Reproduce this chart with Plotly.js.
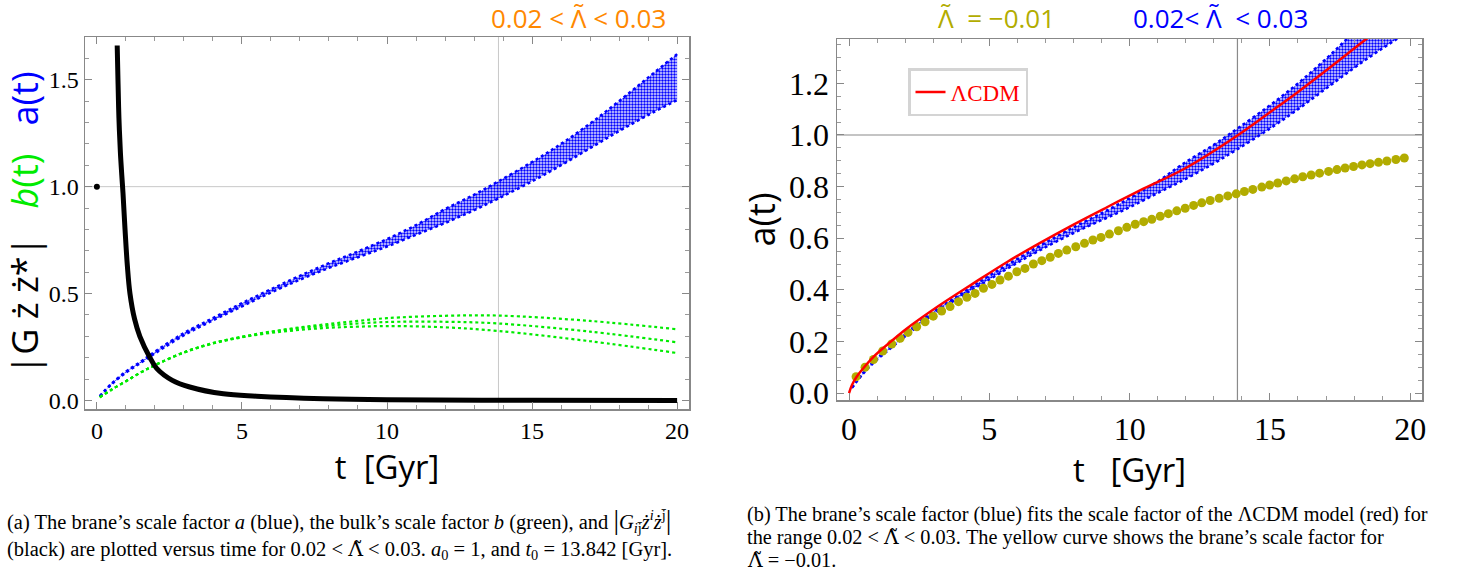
<!DOCTYPE html>
<html>
<head>
<meta charset="utf-8">
<script src="https://cdn.plot.ly/plotly-3.0.1.min.js"></script>
<style>body{margin:0;padding:0;background:#fff;}#chart{width:1461px;height:577px;}</style>
</head>
<body>
<div id="chart"></div>
<script>
// ---------- data ----------
// brane scale factor a(t): band for 0.02 < Λ̃ < 0.03 (lower / upper edges)
const bandT     = [0.1, 0.5, 1, 1.5, 2, 3, 4, 5, 6, 7, 8, 9, 10, 11, 12, 13, 13.842, 15, 16, 17, 18, 19, 20];
const aLower    = [0.02,0.075,0.13,0.175,0.22,0.305,0.375,0.44,0.505,0.565,0.62,0.67,0.72,0.775,0.83,0.89,0.945,1.025,1.10,1.18,1.26,1.335,1.405];
const aUpper    = [0.02,0.078,0.135,0.18,0.228,0.315,0.385,0.455,0.52,0.583,0.642,0.697,0.755,0.82,0.895,0.962,1.025,1.115,1.20,1.295,1.40,1.51,1.62];

// bulk scale factor b(t): three curves
const bT        = [0.1, 0.5, 1, 1.5, 2, 3, 4, 5, 6, 7, 8, 9, 10, 12, 13.842, 17, 20];
const bTop      = [0.015,0.05,0.09,0.13,0.165,0.225,0.268,0.298,0.322,0.342,0.358,0.372,0.385,0.396,0.397,0.372,0.333];
const bMid      = [0.015,0.05,0.09,0.13,0.165,0.225,0.268,0.297,0.32,0.338,0.35,0.36,0.367,0.368,0.36,0.322,0.272];
const bLow      = [0.015,0.05,0.09,0.13,0.165,0.224,0.266,0.295,0.316,0.33,0.34,0.345,0.348,0.342,0.325,0.277,0.222];

// |G z' z'*| (black)
const gStartT   = [0];
const gStartY   = [1.0];
const gT        = [0.70, 0.73, 0.76, 0.81, 0.86, 0.90, 0.97, 1.05, 1.14, 1.3, 1.48, 1.83, 2.06, 2.6, 3.2, 4.36, 5.5, 7.8, 10, 15, 20];
const gY        = [1.66, 1.48, 1.32, 1.16, 1.05, 0.97, 0.80, 0.63, 0.50, 0.38, 0.30, 0.20, 0.15, 0.094, 0.063, 0.031, 0.02, 0.008, 0.003, 0.001, 0.0];

// ΛCDM scale factor (red)
const lcdmT     = [0, 0.1, 0.27, 0.5, 0.87, 1.5, 2.06, 3.24, 4.43, 5.62, 6.81, 8.0, 9.19, 10.37, 12, 13.842, 15, 16, 17, 18, 19];
const lcdmA     = [0, 0.03, 0.063, 0.095, 0.14, 0.2, 0.25, 0.341, 0.425, 0.507, 0.582, 0.653, 0.72, 0.785, 0.872, 0.998, 1.088, 1.167, 1.25, 1.335, 1.42];

// brane scale factor for Λ̃ = −0.01 (olive dots)
const negT = [0.25,0.57,0.87,1.2,1.52,1.82,2.1,2.41,2.71,3.0,3.3,3.6,3.9,4.2,4.49,4.79,5.09,5.38,5.68,5.98,6.27,6.57,6.87,7.17,7.46,7.76,8.08,8.39,8.69,8.98,9.28,9.6,9.9,10.2,10.5,10.79,11.09,11.38,11.68,11.98,12.28,12.57,12.87,13.19,13.5,13.8,14.09,14.39,14.71,14.99,15.28,15.58,15.88,16.17,16.47,16.77,17.09,17.39,17.68,17.98,18.28,18.57,18.87,19.17,19.49,19.79];
const negA = [0.063,0.1,0.13,0.163,0.19,0.212,0.235,0.257,0.276,0.298,0.318,0.335,0.354,0.371,0.386,0.406,0.421,0.438,0.453,0.47,0.483,0.5,0.513,0.526,0.541,0.554,0.567,0.58,0.593,0.603,0.616,0.629,0.642,0.654,0.664,0.673,0.685,0.695,0.706,0.716,0.727,0.737,0.746,0.755,0.764,0.772,0.781,0.789,0.798,0.806,0.814,0.822,0.83,0.838,0.845,0.852,0.859,0.866,0.872,0.878,0.884,0.889,0.894,0.899,0.905,0.911];

// reference values
const t0 = 13.842;
const a0 = 1;

const xTicks = [0, 5, 10, 15, 20];
const yTicksL = [0, 0.5, 1.0, 1.5];
const yTickTextL = ['0.0', '0.5', '1.0', '1.5'];
const yTicksR = [0, 0.2, 0.4, 0.6, 0.8, 1.0, 1.2];
const yTickTextR = ['0.0', '0.2', '0.4', '0.6', '0.8', '1.0', '1.2'];

// ---------- styling ----------
const BLUE = 'rgb(0,0,255)';
const GREEN = 'rgb(0,235,0)';
const OLIVE = 'rgb(178,172,0)';
const ORANGE = 'rgb(255,136,0)';
const RED = 'rgb(255,0,0)';
const SERIF = 'Liberation Serif, Times New Roman, serif';
const SANS = 'Open Sans';
const W = 1461, H = 577;
const LT = '<span style="font-family:DejaVu Serif">Λ̃</span>';

const bandPattern = {shape: '.', fgcolor: BLUE, bgcolor: 'rgba(0,0,255,0.12)', size: 3, solidity: 0.5};

function band(xa, ya) {
  return [
    {x: bandT, y: aLower, xaxis: xa, yaxis: ya, mode: 'lines', line: {color: BLUE, width: 2.5, dash: 'dot', shape: 'spline'}, showlegend: false, hoverinfo: 'skip'},
    {x: bandT, y: aUpper, xaxis: xa, yaxis: ya, mode: 'lines', line: {color: BLUE, width: 2.5, dash: 'dot', shape: 'spline'}, fill: 'tonexty', fillcolor: 'rgba(0,0,255,0.4)', fillpattern: bandPattern, showlegend: false, hoverinfo: 'skip'}
  ];
}

const traces = [
  ...band('x', 'y'),
  {x: bT, y: bTop, xaxis: 'x', yaxis: 'y', mode: 'lines', line: {color: GREEN, width: 2.2, dash: 'dot', shape: 'spline'}, showlegend: false},
  {x: bT, y: bMid, xaxis: 'x', yaxis: 'y', mode: 'lines', line: {color: GREEN, width: 2.2, dash: 'dot', shape: 'spline'}, showlegend: false},
  {x: bT, y: bLow, xaxis: 'x', yaxis: 'y', mode: 'lines', line: {color: GREEN, width: 2.2, dash: 'dot', shape: 'spline'}, showlegend: false},
  {x: gT, y: gY, xaxis: 'x', yaxis: 'y', mode: 'lines', line: {color: 'black', width: 5, shape: 'spline'}, showlegend: false},
  {x: gStartT, y: gStartY, xaxis: 'x', yaxis: 'y', mode: 'markers', marker: {color: 'black', size: 6}, showlegend: false},

  ...band('x2', 'y2'),
  {x: negT, y: negA, xaxis: 'x2', yaxis: 'y2', mode: 'markers', marker: {color: OLIVE, size: 9}, showlegend: false},
  {x: lcdmT, y: lcdmA, xaxis: 'x2', yaxis: 'y2', mode: 'lines', name: 'ΛCDM', line: {color: RED, width: 2.5, shape: 'spline'}, showlegend: true}
];

function axisBase() {
  return {
    showline: true, linecolor: '#888', linewidth: 1.5, mirror: 'ticks',
    ticks: 'inside', ticklen: 7, tickcolor: '#888', tickwidth: 1,
    showgrid: false, zeroline: false,
    tickfont: {family: SERIF, size: 24, color: 'black'}
  };
}

const layout = {
  width: W, height: H,
  margin: {l: 0, r: 0, t: 0, b: 0},
  paper_bgcolor: 'white', plot_bgcolor: 'white',
  font: {family: SERIF, color: 'black'},
  showlegend: true,
  legend: {x: 908 / W, y: 1 - 68 / H, xanchor: 'left', yanchor: 'top', bgcolor: 'white',
           bordercolor: '#d4d4d4', borderwidth: 2.5, itemwidth: 30,
           font: {family: SERIF, size: 23, color: RED}},
  xaxis: Object.assign(axisBase(), {
    domain: [85 / W, 689 / W], range: [-0.41, 20.41], anchor: 'y',
    tickvals: xTicks, minor: {dtick: 1, ticklen: 4, tickcolor: '#999', ticks: 'inside'},
    title: {text: 't  [Gyr]', font: {family: SANS, size: 33, color: 'black'}, standoff: 9}
  }),
  yaxis: Object.assign(axisBase(), {
    domain: [(H - 409) / H, (H - 37) / H], range: [-0.04, 1.70], anchor: 'x',
    tickvals: yTicksL, ticktext: yTickTextL, minor: {dtick: 0.1, ticklen: 4, tickcolor: '#999', ticks: 'inside'},
    title: {text: '<span style="color:black">|G ż ż*|</span>   <span style="color:' + GREEN + '"><i>b</i>(t)</span>   <span style="color:' + BLUE + '">a(t)</span>',
            font: {family: SANS, size: 36, color: 'black'}, standoff: 2}
  }),
  xaxis2: Object.assign(axisBase(), {
    domain: [837 / W, 1422 / W], range: [-0.43, 20.42], anchor: 'y2',
    tickvals: xTicks, minor: {dtick: 1, ticklen: 4, tickcolor: '#999', ticks: 'inside'},
    tickfont: {family: SERIF, size: 32, color: 'black'},
    title: {text: 't   [Gyr]', font: {family: SANS, size: 33, color: 'black'}, standoff: 4}
  }),
  yaxis2: Object.assign(axisBase(), {
    domain: [(H - 400) / H, (H - 39) / H], range: [-0.027, 1.372], anchor: 'x2',
    tickvals: yTicksR, ticktext: yTickTextR, minor: {dtick: 0.05, ticklen: 4, tickcolor: '#999', ticks: 'inside'},
    tickfont: {family: SERIF, size: 32, color: 'black'},
    title: {text: 'a(t)', font: {family: SANS, size: 36, color: 'black'}, standoff: 2}
  }),
  shapes: [
    {type: 'line', xref: 'x', yref: 'y domain', x0: t0, x1: t0, y0: 0, y1: 1, line: {color: '#c8c8c8', width: 1}, layer: 'below'},
    {type: 'line', xref: 'x domain', yref: 'y', x0: 0, x1: 1, y0: a0, y1: a0, line: {color: '#c8c8c8', width: 1}, layer: 'below'},
    {type: 'line', xref: 'x2', yref: 'y2 domain', x0: t0, x1: t0, y0: 0, y1: 1, line: {color: '#8a8a8a', width: 1.2}, layer: 'below'},
    {type: 'line', xref: 'x2 domain', yref: 'y2', x0: 0, x1: 1, y0: a0, y1: a0, line: {color: '#8a8a8a', width: 1.2}, layer: 'below'}
  ],
  annotations: [
    {xref: 'paper', yref: 'paper', x: 578 / W, y: 1 - 18 / H, xanchor: 'center', yanchor: 'middle', showarrow: false,
     text: '0.02 &lt; Λ̃ &lt; 0.03', font: {family: SANS, size: 26, color: ORANGE}},
    {xref: 'paper', yref: 'paper', x: 996 / W, y: 1 - 18 / H, xanchor: 'center', yanchor: 'middle', showarrow: false,
     text: 'Λ̃  = −0.01', font: {family: SANS, size: 26, color: OLIVE}},
    {xref: 'paper', yref: 'paper', x: 1220 / W, y: 1 - 18 / H, xanchor: 'center', yanchor: 'middle', showarrow: false,
     text: '0.02&lt; Λ̃  &lt; 0.03', font: {family: SANS, size: 26, color: BLUE}},
    {xref: 'paper', yref: 'paper', x: 5 / W, y: 1 - 520 / H, xanchor: 'left', yanchor: 'middle', showarrow: false, align: 'left',
     text: '(a) The brane’s scale factor <i>a</i> (blue), the bulk’s scale factor <i>b</i> (green), and <span style="font-size:28px">|</span><i>G</i><sub><i>i</i>j̄</sub><i>ż</i><sup><i>i</i></sup><i>ż</i><sup>j̄</sup><span style="font-size:28px">|</span>',
     font: {family: SERIF, size: 20.5, color: 'black'}},
    {xref: 'paper', yref: 'paper', x: 5 / W, y: 1 - 550 / H, xanchor: 'left', yanchor: 'middle', showarrow: false, align: 'left',
     text: '(black) are plotted versus time for 0.02 &lt; ' + LT + ' &lt; 0.03. <i>a</i><sub>0</sub> = 1, and <i>t</i><sub>0</sub> = 13.842 [Gyr].',
     font: {family: SERIF, size: 20.5, color: 'black'}},
    {xref: 'paper', yref: 'paper', x: 745 / W, y: 1 - 514 / H, xanchor: 'left', yanchor: 'middle', showarrow: false, align: 'left',
     text: '(b) The brane’s scale factor (blue) fits the scale factor of the ΛCDM model (red) for',
     font: {family: SERIF, size: 20.3, color: 'black'}},
    {xref: 'paper', yref: 'paper', x: 745 / W, y: 1 - 537 / H, xanchor: 'left', yanchor: 'middle', showarrow: false, align: 'left',
     text: 'the range 0.02 &lt; ' + LT + ' &lt; 0.03. The yellow curve shows the brane’s scale factor for',
     font: {family: SERIF, size: 20.3, color: 'black'}},
    {xref: 'paper', yref: 'paper', x: 745 / W, y: 1 - 560 / H, xanchor: 'left', yanchor: 'middle', showarrow: false, align: 'left',
     text: LT + ' = −0.01.',
     font: {family: SERIF, size: 20.3, color: 'black'}}
  ]
};

Plotly.newPlot('chart', traces, layout, {staticPlot: true, displayModeBar: false});
</script>
</body>
</html>
